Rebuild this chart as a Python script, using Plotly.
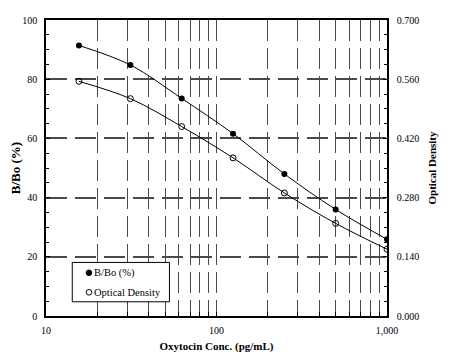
import plotly.graph_objects as go

conc = [15.6, 31.25, 62.5, 125, 250, 500, 1000]
bbo = [91.4, 84.8, 73.5, 61.6, 48.0, 36.0, 25.9]
od = [0.555, 0.514, 0.448, 0.374, 0.291, 0.219, 0.158]
series_names = ["B/Bo (%)", "Optical Density"]

x_tickvals = [10, 100, 1000]
x_ticktext = ["10", "100", "1,000"]
x_minor = [20, 30, 40, 50, 60, 70, 80, 90, 200, 300, 400, 500, 600, 700, 800, 900]
y_ticks = [0, 20, 40, 60, 80, 100]
y2_ticks = [0, 0.14, 0.28, 0.42, 0.56, 0.70]

FONT = "Liberation Serif, Times New Roman, serif"
GRID = "#4a4a4a"

fig = go.Figure()
fig.add_trace(go.Scatter(x=conc, y=bbo, mode="lines+markers", name=series_names[0],
                         line=dict(color="black", width=1, shape="spline"),
                         marker=dict(symbol="circle", size=6, color="black"), showlegend=False))
fig.add_trace(go.Scatter(x=conc, y=od, yaxis="y2", mode="lines+markers", name=series_names[1],
                         line=dict(color="black", width=1, shape="spline"),
                         marker=dict(symbol="circle-open", size=6, color="black", line=dict(width=1)),
                         showlegend=False))

# legend box drawn as shape + text entries
fig.add_shape(type="rect", xref="paper", yref="paper", x0=0.077, x1=0.362, y0=0.048, y1=0.181,
              line=dict(color="black", width=1), fillcolor="white", layer="above")
leg_y = [0.146, 0.080]
leg_fill = ["black", "white"]
for name, yy, fc in zip(series_names, leg_y, leg_fill):
    fig.add_shape(type="circle", xref="paper", yref="paper", xsizemode="pixel", ysizemode="pixel",
                  xanchor=0.126, yanchor=yy, x0=-2.8, x1=2.8, y0=-2.8, y1=2.8,
                  line=dict(color="black", width=1), fillcolor=fc, layer="above")
    fig.add_annotation(xref="paper", yref="paper", x=0.136, y=yy, xanchor="left", yanchor="middle",
                       text=name, showarrow=False, font=dict(size=10.5))

fig.update_layout(
    width=441, height=356,
    margin=dict(l=38, r=62, t=12, b=48, autoexpand=False),
    paper_bgcolor="white", plot_bgcolor="white",
    font=dict(family=FONT, size=10, color="black"),
    showlegend=False,
    xaxis=dict(type="log", range=[1, 3], tickmode="array", tickvals=x_tickvals, ticktext=x_ticktext,
               ticks="inside", ticklen=4, tickcolor="black", showline=True, linecolor="black", linewidth=1.5,
               mirror=True, showgrid=True, gridcolor=GRID, gridwidth=1.3, griddash="21px,7px",
               ticklabelstandoff=4, automargin=False,
               minor=dict(tickmode="array", tickvals=x_minor, ticks="inside", ticklen=4, tickcolor="black",
                          showgrid=True, gridcolor=GRID, gridwidth=1.3, griddash="21px,7px"),
               title=dict(text="<b>Oxytocin Conc. (pg/mL)</b>", font=dict(size=11), standoff=8),
               zeroline=False),
    yaxis=dict(range=[0, 100], tickmode="array", tickvals=y_ticks, ticks="inside", ticklen=4, tickcolor="black",
               showline=True, linecolor="black", linewidth=1.5, showgrid=True, gridcolor=GRID, gridwidth=1.5,
               griddash="21px,8px", zeroline=False, ticklabelstandoff=5, automargin=False,
               minor=dict(dtick=5, ticks="inside", ticklen=3, tickcolor="black", showgrid=False),
               title=dict(text="<b>B/Bo (%)</b>", font=dict(size=13), standoff=2)),
    yaxis2=dict(range=[0, 0.7], overlaying="y", side="right", tickmode="array", tickvals=y2_ticks,
                tickformat=".3f", ticks="inside", ticklen=4, tickcolor="black", showline=True, linecolor="black",
                linewidth=1.5, showgrid=False, zeroline=False, ticklabelstandoff=6, automargin=False,
                minor=dict(dtick=0.035, ticks="inside", ticklen=3, tickcolor="black", showgrid=False),
                title=dict(text="<b>Optical Density</b>", font=dict(size=11), standoff=10)),
)

fig.write_html("out.html")
